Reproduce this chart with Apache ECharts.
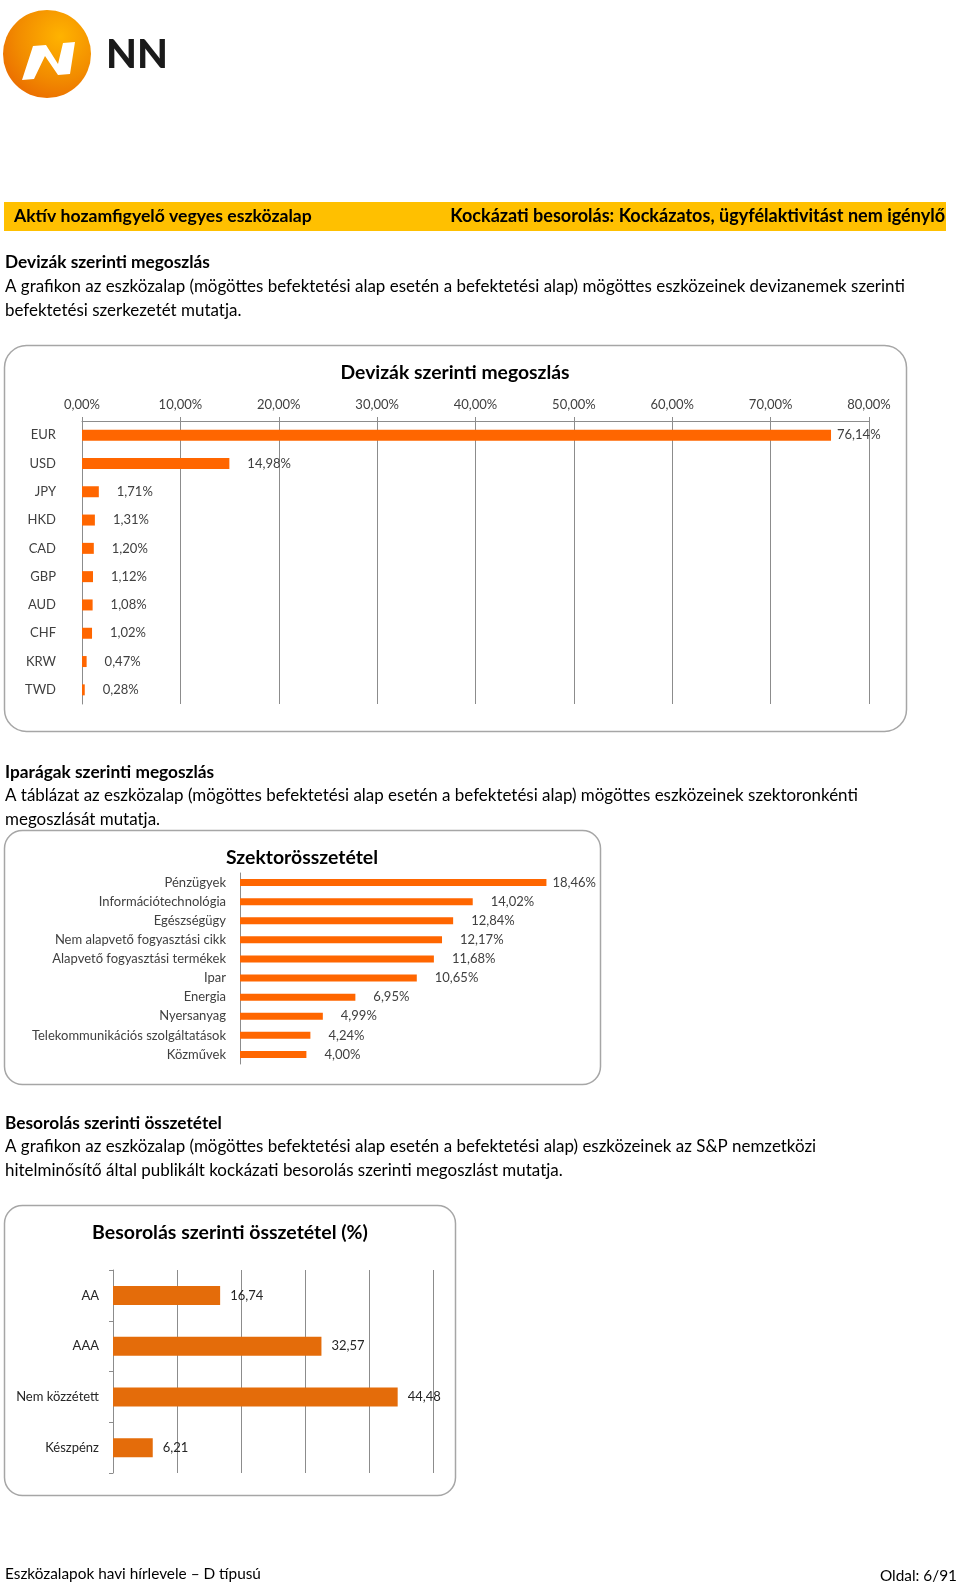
<!DOCTYPE html>
<html><head><meta charset="utf-8">
<script src="https://cdn.jsdelivr.net/npm/echarts@6/dist/echarts.min.js"></script>
<style>html,body{margin:0;padding:0;background:#fff}#c{width:960px;height:1586px}</style>
</head><body><div id="c"></div>
<script>
// ---- data ----
const currencyCategories = ['EUR','USD','JPY','HKD','CAD','GBP','AUD','CHF','KRW','TWD'];
const currencyValues = [76.14,14.98,1.71,1.31,1.20,1.12,1.08,1.02,0.47,0.28];
const sectorCategories = ['Pénzügyek','Információtechnológia','Egészségügy','Nem alapvető fogyasztási cikk','Alapvető fogyasztási termékek','Ipar','Energia','Nyersanyag','Telekommunikációs szolgáltatások','Közművek'];
const sectorValues = [18.46,14.02,12.84,12.17,11.68,10.65,6.95,4.99,4.24,4.00];
const ratingCategories = ['AA','AAA','Nem közzétett','Készpénz'];
const ratingValues = [16.74,32.57,44.48,6.21];

const headerLeft = 'Aktív hozamfigyelő vegyes eszközalap';
const headerRight = 'Kockázati besorolás: Kockázatos, ügyfélaktivitást nem igénylő';
const sec1Title = 'Devizák szerinti megoszlás';
const sec1Lines = ['A grafikon az eszközalap (mögöttes befektetési alap esetén a befektetési alap) mögöttes eszközeinek devizanemek szerinti','befektetési szerkezetét mutatja.'];
const sec2Title = 'Iparágak szerinti megoszlás';
const sec2Lines = ['A táblázat az eszközalap (mögöttes befektetési alap esetén a befektetési alap) mögöttes eszközeinek szektoronkénti','megoszlását mutatja.'];
const sec3Title = 'Besorolás szerinti összetétel';
const sec3Lines = ['A grafikon az eszközalap (mögöttes befektetési alap esetén a befektetési alap) eszközeinek az S&P nemzetközi','hitelminősítő által publikált kockázati besorolás szerinti megoszlást mutatja.'];
const chart1Title = 'Devizák szerinti megoszlás';
const chart2Title = 'Szektorösszetétel';
const chart3Title = 'Besorolás szerinti összetétel (%)';
const footerLeft = 'Eszközalapok havi hírlevele – D típusú';
const footerRight = 'Oldal: 6/91';

// ---- layout helpers ----
const FAM = 'Lato, "Open Sans", "Noto Sans", sans-serif';
const mctx = document.createElement('canvas').getContext('2d');
function fit(text, w, weight){ mctx.font = (weight||'normal') + ' 100px Lato'; return 100 * w / mctx.measureText(text).width; }
function txt(text, x, y, size, weight, align, fill){
  return {type:'text', x:x, y:y, z:10, style:{text:text, font:(weight||'normal')+' '+size.toFixed(2)+'px '+FAM, fill:fill||'#000', textAlign:align||'left', textVerticalAlign:'middle', verticalAlign:'middle'}};
}
const bodySize = fit(sec1Lines[0], 901, 'normal');
const headSize = fit(sec1Title, 205, 'bold');
const barLeftSize = fit(headerLeft, 298, 'bold');
const barRightSize = fit(headerRight, 495, 'bold');
const footSize = fit(footerLeft, 256, 'normal');
const c1tSize = fit(chart1Title, 229, 'bold');
const c2tSize = fit(chart2Title, 152, 'bold');
const c3tSize = fit(chart3Title, 276, 'bold');

const pct = v => v.toFixed(2).replace('.', ',') + '%';
const num = v => v.toFixed(2).replace('.', ',');
const LBL = '#404040';
const GRID = '#8C8C8C';

const graphics = [
  // logo
  {type:'circle', shape:{cx:47, cy:54, r:44}, z:5, style:{fill:{type:'radial', x:0.65, y:0.3, r:0.8, colorStops:[{offset:0,color:'#FFB300'},{offset:0.6,color:'#F28C00'},{offset:1,color:'#EA6A00'}]}}},
  {type:'polygon', z:6, shape:{points:[[22,80],[33,46],[46,45],[58,64],[63,43],[75,42],[70,74],[58,75],[45,56],[34,79]]}, style:{fill:'#fff'}},
  txt('NN', 106, 55, 40, '900', 'left', '#1A1A1A'),
  // header bar
  {type:'rect', shape:{x:4, y:202, width:942, height:29}, z:1, style:{fill:'#FFC000'}},
  txt(headerLeft, 14, 216.5, barLeftSize, 'bold', 'left', '#000'),
  txt(headerRight, 945, 216.5, barRightSize, 'bold', 'right', '#000'),
  // section 1
  txt(sec1Title, 5, 262, headSize, 'bold'),
  txt(sec1Lines[0], 5, 286.5, bodySize),
  txt(sec1Lines[1], 5, 311, bodySize),
  // section 2
  txt(sec2Title, 5, 772, headSize, 'bold'),
  txt(sec2Lines[0], 5, 796, bodySize),
  txt(sec2Lines[1], 5, 820, bodySize),
  // section 3
  txt(sec3Title, 5, 1123, headSize, 'bold'),
  txt(sec3Lines[0], 5, 1147, bodySize),
  txt(sec3Lines[1], 5, 1171, bodySize),
  // footer
  txt(footerLeft, 5, 1574, footSize),
  txt(footerRight, 957, 1576, footSize, 'normal', 'right'),
  // chart frames
  {type:'rect', shape:{x:4.5, y:345.5, width:902, height:386, r:22}, z:0, style:{fill:'none', stroke:'#A6A6A6', lineWidth:1.5}},
  {type:'rect', shape:{x:4.5, y:830.5, width:596, height:254, r:18}, z:0, style:{fill:'none', stroke:'#A6A6A6', lineWidth:1.5}},
  {type:'rect', shape:{x:4.5, y:1205.5, width:451, height:290, r:18}, z:0, style:{fill:'none', stroke:'#A6A6A6', lineWidth:1.5}},
  // chart titles
  txt(chart1Title, 455, 373, c1tSize, 'bold', 'center', '#000'),
  txt(chart2Title, 302, 858, c2tSize, 'bold', 'center', '#000'),
  txt(chart3Title, 230, 1233, c3tSize, 'bold', 'center', '#000')
];

const chart = echarts.init(document.getElementById('c'), null, {renderer:'canvas', width:960, height:1586});
chart.setOption({
  animation:false,
  backgroundColor:'#fff',
  textStyle:{fontFamily:FAM},
  graphic:{elements:graphics},
  grid:[
    {left:82, top:421, width:787, height:283},
    {left:240, top:873, width:332, height:191},
    {left:113, top:1270, width:320, height:203}
  ],
  xAxis:[
    {gridIndex:0, type:'value', position:'top', min:0, max:80, interval:10,
      axisLine:{show:true, lineStyle:{color:GRID}}, axisTick:{show:true, length:4, lineStyle:{color:GRID}},
      splitLine:{show:true, lineStyle:{color:GRID, width:1}},
      axisLabel:{formatter:pct, color:LBL, fontSize:13, fontFamily:FAM, margin:10}},
    {gridIndex:1, type:'value', min:0, max:20, interval:5, show:false, splitLine:{show:false}},
    {gridIndex:2, type:'value', min:0, max:50, interval:10,
      axisLine:{show:false}, axisTick:{show:false}, axisLabel:{show:false},
      splitLine:{show:true, lineStyle:{color:GRID, width:1}}}
  ],
  yAxis:[
    {gridIndex:0, type:'category', inverse:true, data:currencyCategories,
      axisLine:{show:true, lineStyle:{color:GRID}}, axisTick:{show:false},
      axisLabel:{color:LBL, fontSize:13, fontFamily:FAM, margin:26}},
    {gridIndex:1, type:'category', inverse:true, data:sectorCategories,
      axisLine:{show:true, lineStyle:{color:GRID}}, axisTick:{show:false},
      axisLabel:{color:LBL, fontSize:13, fontFamily:FAM, margin:14}},
    {gridIndex:2, type:'category', inverse:true, data:ratingCategories,
      axisLine:{show:true, lineStyle:{color:GRID}}, axisTick:{show:true, length:4, lineStyle:{color:GRID}},
      axisLabel:{color:'#262626', fontSize:13, fontFamily:FAM, margin:14}}
  ],
  series:[
    {type:'bar', xAxisIndex:0, yAxisIndex:0, barWidth:11, itemStyle:{color:'#FF6600'},
      data:currencyValues.map((v,i)=> i===0 ? {value:v, label:{distance:6}} : v),
      label:{show:true, position:'right', distance:18, formatter:p=>pct(p.value), color:LBL, fontSize:13, fontFamily:FAM}},
    {type:'bar', xAxisIndex:1, yAxisIndex:1, barWidth:7, itemStyle:{color:'#FF6600'},
      data:sectorValues.map((v,i)=> i===0 ? {value:v, label:{distance:6}} : v),
      label:{show:true, position:'right', distance:18, formatter:p=>pct(p.value), color:LBL, fontSize:13, fontFamily:FAM}},
    {type:'bar', xAxisIndex:2, yAxisIndex:2, barWidth:19, itemStyle:{color:'#E46C0A'},
      data:ratingValues,
      label:{show:true, position:'right', distance:10, formatter:p=>num(p.value), color:'#262626', fontSize:13, fontFamily:FAM}}
  ]
});
</script></body></html>
